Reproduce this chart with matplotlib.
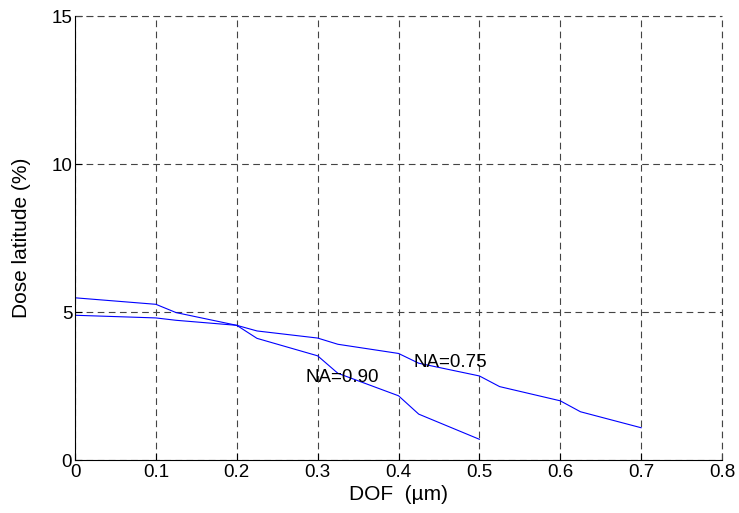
import matplotlib
matplotlib.use("Agg")
import matplotlib.pyplot as plt

plt.rcParams['font.family'] = ['Liberation Sans', 'DejaVu Sans']

# DOF (um) vs dose latitude (%)
dof_090 = [0, 0.1, 0.125, 0.2, 0.225, 0.3, 0.325, 0.4, 0.425, 0.5]
dl_090 = [5.48, 5.26, 4.98, 4.55, 4.11, 3.52, 2.93, 2.17, 1.55, 0.70]

dof_075 = [0, 0.1, 0.125, 0.2, 0.225, 0.3, 0.325, 0.4, 0.425, 0.5, 0.525, 0.6, 0.625, 0.7]
dl_075 = [4.89, 4.80, 4.72, 4.55, 4.36, 4.12, 3.91, 3.60, 3.27, 2.84, 2.48, 2.00, 1.63, 1.09]

xticks = [0, 0.1, 0.2, 0.3, 0.4, 0.5, 0.6, 0.7, 0.8]
yticks = [0, 5, 10, 15]

fig = plt.figure(figsize=(7.39, 5.13), dpi=100)
ax = fig.add_axes([0.1015, 0.1033, 0.977 - 0.1015, 0.9688 - 0.1033])

ax.plot(dof_090, dl_090, color='#0000ff', lw=0.8)
ax.plot(dof_075, dl_075, color='#0000ff', lw=0.8)

ax.text(0.285, 2.8, 'NA=0.90', fontsize=13.5, va='center', ha='left')
ax.text(0.419, 3.31, 'NA=0.75', fontsize=13.5, va='center', ha='left')

ax.set_xlim(0, 0.8)
ax.set_ylim(0, 15)
ax.set_xticks(xticks)
ax.set_xticklabels(['0', '0.1', '0.2', '0.3', '0.4', '0.5', '0.6', '0.7', '0.8'])
ax.set_yticks(yticks)
ax.tick_params(direction='in', length=5, width=0.8, labelsize=13.5)
ax.tick_params(axis='x', pad=3)
ax.tick_params(axis='y', pad=2)

ax.grid(True, linestyle=(0, (6, 4)), color='#444444', lw=0.8)
ax.set_axisbelow(True)
ax.spines['top'].set_visible(False)
ax.spines['right'].set_visible(False)
ax.spines['left'].set_linewidth(0.8)
ax.spines['bottom'].set_linewidth(0.8)
# grid lines at the upper/right limits
ax.axhline(15, linestyle=(0, (6, 4)), color='#444444', lw=0.8, clip_on=False)
ax.axvline(0.8, linestyle=(0, (6, 4)), color='#444444', lw=0.8, clip_on=False)

ax.set_xlabel('DOF  (µm)', fontsize=15, labelpad=3)
ax.set_ylabel('Dose latitude (%)', fontsize=15, labelpad=15)

fig.savefig('out.png', dpi=100)
